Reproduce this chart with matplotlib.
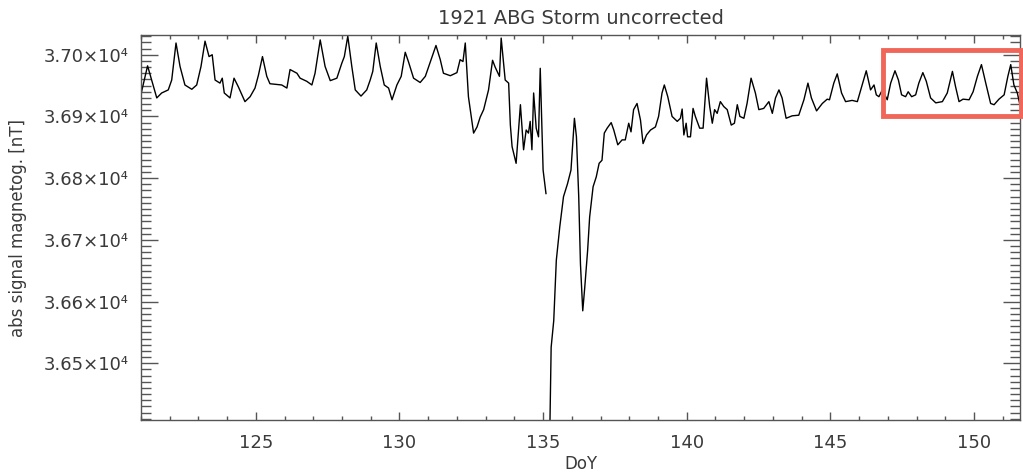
import numpy as np
import matplotlib
matplotlib.use("Agg")
import matplotlib.pyplot as plt
from matplotlib.patches import Rectangle
from matplotlib.ticker import MultipleLocator, FuncFormatter

# Day of year and absolute magnetometer signal (nT)
doy = [
    121.02, 121.23, 121.37, 121.55, 121.72, 121.95, 122.07, 122.22, 122.36, 122.53,
    122.77, 122.94, 123.09, 123.23, 123.37, 123.48, 123.58, 123.75, 123.83, 123.90,
    124.10, 124.24, 124.39, 124.62, 124.80, 124.97, 125.09, 125.23, 125.38, 125.49,
    125.90, 126.08, 126.19, 126.43, 126.54, 126.77, 126.95, 127.06, 127.24, 127.41,
    127.59, 127.82, 127.99, 128.08, 128.20, 128.34, 128.46, 128.66, 128.86, 128.98,
    129.07, 129.19, 129.33, 129.47, 129.62, 129.74, 129.91, 130.06, 130.20, 130.31,
    130.49, 130.72, 130.90, 131.10, 131.27, 131.42, 131.53, 131.77, 132.00, 132.11,
    132.21, 132.29, 132.40, 132.58, 132.70, 132.81, 132.93, 133.10, 133.24, 133.33,
    133.48, 133.54, 133.68, 133.80, 133.86, 133.92, 134.06, 134.21, 134.32, 134.41,
    134.49, 134.55, 134.61, 134.67, 134.76, 134.84, 134.90, 135.00, 135.10, 135.16,
    135.22, 135.28, 135.37, 135.46, 135.58, 135.71, 135.85, 135.97, 136.04, 136.09,
    136.16, 136.24, 136.30, 136.38, 136.45, 136.55, 136.62, 136.74, 136.85, 136.95,
    137.05, 137.13, 137.23, 137.37, 137.46, 137.60, 137.75, 137.86, 137.98, 138.06,
    138.15, 138.27, 138.39, 138.48, 138.60, 138.74, 138.91, 139.02, 139.14, 139.22,
    139.34, 139.49, 139.67, 139.78, 139.84, 139.90, 139.98, 140.03, 140.13, 140.22,
    140.30, 140.45, 140.57, 140.69, 140.80, 140.89, 140.97, 141.06, 141.17, 141.29,
    141.41, 141.55, 141.66, 141.76, 141.85, 141.99, 142.10, 142.24, 142.39, 142.51,
    142.68, 142.86, 142.98, 143.09, 143.21, 143.32, 143.46, 143.67, 143.90, 144.08,
    144.22, 144.34, 144.52, 144.72, 144.89, 144.97, 145.12, 145.24, 145.39, 145.53,
    145.76, 145.94, 146.09, 146.25, 146.40, 146.52, 146.60, 146.69, 146.81, 146.98,
    147.10, 147.25, 147.37, 147.48, 147.62, 147.71, 147.83, 147.97, 148.08, 148.22,
    148.34, 148.49, 148.67, 148.90, 149.07, 149.25, 149.36, 149.48, 149.62, 149.83,
    149.97, 150.12, 150.26, 150.41, 150.58, 150.70, 150.87, 151.05, 151.18, 151.28,
    151.39, 151.51, 151.59,
]
field = [
    36940, 36982, 36959, 36930, 36938, 36943, 36959, 37019, 36981, 36951,
    36944, 36951, 36981, 37022, 36997, 37000, 36959, 36954, 36962, 36938,
    36930, 36962, 36948, 36924, 36932, 36946, 36967, 36997, 36965, 36953,
    36951, 36946, 36976, 36970, 36962, 36957, 36951, 36970, 37024, 36981,
    36958, 36962, 36986, 36997, 37030, 36981, 36943, 36933, 36943, 36959,
    36973, 37019, 36981, 36951, 36946, 36927, 36951, 36965, 37004, 36989,
    36962, 36955, 36965, 36992, 37015, 36992, 36970, 36966, 36971, 36992,
    36989, 37019, 36932, 36873, 36883, 36899, 36911, 36943, 36991, 36980,
    36965, 37027, 36959, 36954, 36886, 36851, 36824, 36919, 36846, 36878,
    36873, 36892, 36846, 36938, 36881, 36867, 36978, 36813, 36775, np.nan,
    36350, 36526, 36569, 36667, 36721, 36770, 36791, 36813, 36862, 36897,
    36867, 36770, 36661, 36585, 36623, 36683, 36737, 36786, 36802, 36824,
    36829, 36873, 36881, 36890, 36878, 36854, 36862, 36862, 36889, 36875,
    36911, 36921, 36894, 36856, 36870, 36878, 36883, 36900, 36938, 36951,
    36932, 36900, 36892, 36897, 36912, 36870, 36889, 36867, 36867, 36913,
    36900, 36881, 36881, 36962, 36916, 36889, 36911, 36905, 36924, 36916,
    36911, 36886, 36889, 36919, 36900, 36897, 36921, 36962, 36938, 36911,
    36913, 36924, 36905, 36930, 36943, 36930, 36897, 36901, 36902, 36927,
    36954, 36930, 36909, 36921, 36928, 36927, 36954, 36969, 36938, 36924,
    36926, 36924, 36948, 36974, 36943, 36951, 36935, 36932, 36943, 36927,
    36954, 36974, 36959, 36935, 36932, 36940, 36932, 36935, 36954, 36971,
    36957, 36930, 36922, 36924, 36938, 36973, 36948, 36924, 36928, 36927,
    36940, 36965, 36984, 36954, 36921, 36919, 36928, 36935, 36965, 36984,
    36951, 36938, 36921,
]

# highlighted window (red box)
box_doy = [146.85, 151.65]
box_field = [36900, 37008]

text_color = "#3a3a3a"
plt.rcParams["font.family"] = ["DejaVu Sans"]

fig = plt.figure(figsize=(10.23, 4.76), dpi=100)
ax = fig.add_axes([0.1378, 0.1176, 0.8592, 0.8089])

ax.plot(doy, field, color="black", linewidth=1.0)

ax.set_xlim(121.0, 151.6)
ax.set_ylim(36408, 37032)

ax.xaxis.set_major_locator(MultipleLocator(5))
ax.xaxis.set_minor_locator(MultipleLocator(1))
ax.yaxis.set_major_locator(MultipleLocator(100))
ax.yaxis.set_minor_locator(MultipleLocator(10))
ax.yaxis.set_major_formatter(FuncFormatter(lambda v, p: f"{v / 1e4:.2f}×10\u2074"))

ax.tick_params(axis="both", which="both", direction="in", top=True, right=True,
               colors="#555555", labelcolor=text_color, labelsize=13)
ax.tick_params(axis="x", which="major", length=6, width=1, pad=10)
ax.tick_params(axis="x", which="minor", length=3, width=1)
ax.tick_params(axis="y", which="major", length=12.5, width=1, pad=9)
ax.tick_params(axis="y", which="minor", length=7, width=1)
for s in ax.spines.values():
    s.set_color("#555555")
    s.set_linewidth(1.0)

ax.set_title("1921 ABG Storm uncorrected", fontsize=14, color=text_color, pad=8)
ax.set_xlabel("DoY", fontsize=12, color=text_color, labelpad=2)
ax.set_ylabel("abs signal magnetog. [nT]", fontsize=12, color=text_color, labelpad=12)

ax.add_patch(Rectangle((box_doy[0], box_field[0]), box_doy[1] - box_doy[0],
                       box_field[1] - box_field[0], fill=False,
                       edgecolor="#f0675a", linewidth=3.5, clip_on=False, zorder=5))

fig.savefig("out.png", dpi=100)
